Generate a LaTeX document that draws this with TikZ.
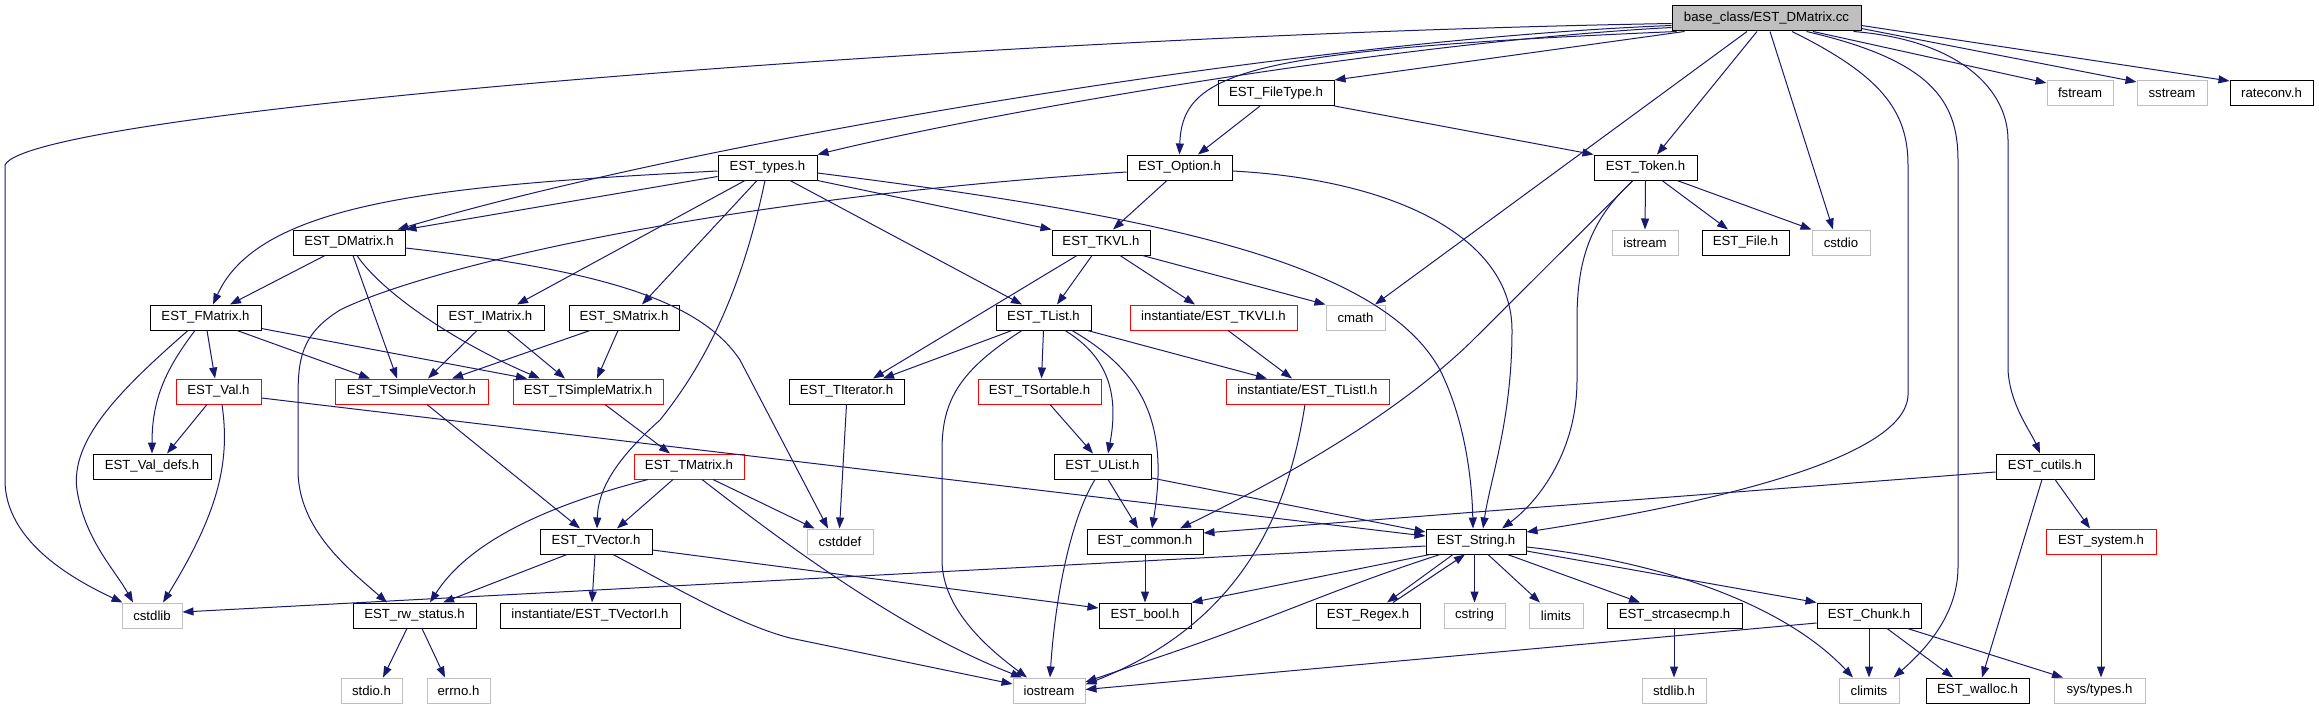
\documentclass[tikz,border=0pt]{standalone}
\usepackage{fontspec}
\setmainfont{Liberation Sans}
\usetikzlibrary{arrows.meta}
\definecolor{edgeblue}{HTML}{191970}
\definecolor{extgrey}{HTML}{BFBFBF}
\begin{document}
\begin{tikzpicture}[x=1pt,y=-1pt,
  box/.style={draw=black, line width=1pt, minimum height=25pt, inner sep=0pt, fill=white,
    font=\fontsize{13.2}{15}\selectfont},
  ext/.style={box, draw=extgrey},
  trunc/.style={box, draw=red},
  root/.style={box, fill=extgrey},
  edge/.style={draw=edgeblue, line width=1pt, -{Triangle[length=11pt,width=8pt]}}]
\useasboundingbox (0,0) rectangle (2319,709);
% row 0
\node[root, minimum width=189] (base) at (1766.5,18.5) {base\_class/EST\_DMatrix.cc};
% row 1
\node[box, minimum width=116] (filetype) at (1276,93) {EST\_FileType.h};
\node[ext, minimum width=66] (fstream) at (2080,93) {fstream};
\node[ext, minimum width=70] (sstream) at (2172,93) {sstream};
\node[box, minimum width=83] (rateconv) at (2271.5,93) {rateconv.h};
% row 2
\node[box, minimum width=99] (types) at (767.5,167.5) {EST\_types.h};
\node[box, minimum width=105] (option) at (1179.5,167.5) {EST\_Option.h};
\node[box, minimum width=103] (token) at (1645.5,167.5) {EST\_Token.h};
% row 3
\node[box, minimum width=112] (dmatrix) at (349,242.5) {EST\_DMatrix.h};
\node[box, minimum width=98] (tkvl) at (1101,242.5) {EST\_TKVL.h};
\node[ext, minimum width=66] (istream) at (1645,242.5) {istream};
\node[box, minimum width=87] (file) at (1745.5,242.5) {EST\_File.h};
\node[ext, minimum width=58] (cstdio) at (1841,242.5) {cstdio};
% row 4
\node[box, minimum width=111] (fmatrix) at (205.5,317.5) {EST\_FMatrix.h};
\node[box, minimum width=107] (imatrix) at (490.5,317.5) {EST\_IMatrix.h};
\node[box, minimum width=110] (smatrix) at (624,317.5) {EST\_SMatrix.h};
\node[box, minimum width=95] (tlist) at (1043.5,317.5) {EST\_TList.h};
\node[trunc, minimum width=167] (tkvli) at (1213.5,317.5) {instantiate/EST\_TKVLI.h};
\node[ext, minimum width=59] (cmath) at (1355.5,317.5) {cmath};
% row 5
\node[trunc, minimum width=85] (val) at (218.5,391.5) {EST\_Val.h};
\node[trunc, minimum width=153] (tsvec) at (411.5,391.5) {EST\_TSimpleVector.h};
\node[trunc, minimum width=150] (tsmat) at (588,391.5) {EST\_TSimpleMatrix.h};
\node[box, minimum width=115] (titer) at (846.5,391.5) {EST\_TIterator.h};
\node[trunc, minimum width=123] (tsort) at (1039.5,391.5) {EST\_TSortable.h};
\node[trunc, minimum width=163] (tlisti) at (1307.5,391.5) {instantiate/EST\_TListI.h};
% row 6
\node[box, minimum width=118] (valdefs) at (152,466.5) {EST\_Val\_defs.h};
\node[trunc, minimum width=110] (tmatrix) at (689,466.5) {EST\_TMatrix.h};
\node[box, minimum width=97] (ulist) at (1102.5,466.5) {EST\_UList.h};
\node[box, minimum width=98] (cutils) at (2045,466.5) {EST\_cutils.h};
% row 7
\node[box, minimum width=112] (tvector) at (596,541.5) {EST\_TVector.h};
\node[ext, minimum width=66] (cstddef) at (840,541.5) {cstddef};
\node[box, minimum width=116] (common) at (1145,541.5) {EST\_common.h};
\node[box, minimum width=100] (string) at (1476,541.5) {EST\_String.h};
\node[trunc, minimum width=110] (system) at (2101,541.5) {EST\_system.h};
% row 8
\node[ext, minimum width=60] (cstdlib) at (152,615.5) {cstdlib};
\node[box, minimum width=123] (rwstatus) at (414.5,615.5) {EST\_rw\_status.h};
\node[box, minimum width=180] (tvectori) at (590,615.5) {instantiate/EST\_TVectorI.h};
\node[box, minimum width=92] (bool) at (1145,615.5) {EST\_bool.h};
\node[box, minimum width=104] (regex) at (1368,615.5) {EST\_Regex.h};
\node[ext, minimum width=61] (cstring) at (1474.5,615.5) {cstring};
\node[ext, minimum width=54] (limits) at (1556,615.5) {limits};
\node[box, minimum width=135] (strcasecmp) at (1674.5,615.5) {EST\_strcasecmp.h};
\node[box, minimum width=104] (chunk) at (1869,615.5) {EST\_Chunk.h};
% row 9
\node[ext, minimum width=61] (stdio) at (371.5,690.5) {stdio.h};
\node[ext, minimum width=63] (errno) at (458.5,690.5) {errno.h};
\node[ext, minimum width=72] (iostream) at (1049,690.5) {iostream};
\node[ext, minimum width=64] (stdlibh) at (1674,690.5) {stdlib.h};
\node[ext, minimum width=60] (climits) at (1869,690.5) {climits};
\node[box, minimum width=103] (walloc) at (1977.5,690.5) {EST\_walloc.h};
\node[ext, minimum width=91] (systypes) at (2099.5,690.5) {sys/types.h};

% ---- edges from base
\draw[edge] ([yshift=-5pt]base.west) .. controls (1000,35) and (30,110) .. (5,165) -- (5,480) .. controls (5,540) and (70,578) .. ([xshift=1pt]cstdlib.north west);
\draw[edge] ([yshift=-7pt]base.west) .. controls (1300,40) and (700,140) .. ([xshift=-8pt]dmatrix.north east);
\draw[edge] ([yshift=-9pt]base.west) .. controls (1400,42) and (1000,110) .. (types.north east);
\draw[edge] ([xshift=5pt]base.south west) .. controls (1250,50) and (1182,70) .. (option.north);
\draw[edge] ([xshift=13pt]base.south west) -- (filetype.north east);
\draw[edge] ([xshift=-9.5pt]base.south) -- ([xshift=11.5pt]token.north);
\draw[edge] ([xshift=3.5pt]base.south) -- ([xshift=-8pt]cstdio.north);
\draw[edge] ([xshift=-19.5pt]base.south) -- ([xshift=19.5pt]cmath.north);
\draw[edge] ([xshift=25.5pt]base.south) .. controls (1880,75) and (1908,110) .. (1908,165) -- (1908,395) .. controls (1906,460) and (1700,505) .. ([yshift=9.5pt]string.east);
\draw[edge] ([xshift=40pt]base.south) .. controls (1930,60) and (1958,100) .. (1958,160) -- (1958,567) .. controls (1958,615) and (1925,650) .. ([xshift=-6pt]climits.north east);
\draw[edge] ([xshift=-8pt]base.south east) .. controls (1960,40) and (2008,90) .. (2008,140) -- (2008,370) .. controls (2010,405) and (2030,430) .. ([xshift=-5pt]cutils.north);
\draw[edge] ([xshift=46.5pt]base.south) -- ([yshift=-3pt]fstream.north west);
\draw[edge] ([yshift=-10pt]base.east) -- ([yshift=-2pt]sstream.north west);
\draw[edge] ([yshift=-7pt]base.east) -- ([yshift=-1pt]rateconv.north west);
% ---- types
\draw[edge] ([yshift=-9pt]types.west) -- (dmatrix.north east);
\draw[edge] ([yshift=-3.5pt]types.west) .. controls (450,185) and (260,200) .. ([xshift=7.5pt]fmatrix.north);
\draw[edge] ([xshift=-22.5pt]types.south) -- ([xshift=26.5pt]imatrix.north);
\draw[edge] ([xshift=-10.5pt]types.south) -- ([xshift=18pt]smatrix.north);
\draw[edge] ([xshift=-2.5pt]types.south) .. controls (740,300) and (700,370) .. (660,420) .. controls (615,460) and (598,490) .. ([xshift=1pt]tvector.north);
\draw[edge] (types.south east) -- (tkvl.north west);
\draw[edge] ([xshift=22.5pt]types.south) -- ([xshift=-21.5pt]tlist.north);
\draw[edge] ([yshift=-5.5pt]types.east) .. controls (1150,215) and (1380,260) .. (1440,370) .. controls (1465,420) and (1472,480) .. ([xshift=-3pt]string.north);
% ---- option
\draw[edge] ([xshift=-12.5pt]option.south) -- ([xshift=12pt]tkvl.north);
\draw[edge] ([yshift=-3.5pt]option.east) .. controls (1400,180) and (1512,240) .. (1512,330) .. controls (1512,420) and (1490,480) .. ([xshift=7pt]string.north);
\draw[edge] ([yshift=-4.5pt]option.west) .. controls (700,200) and (420,270) .. (340,310) .. controls (300,335) and (298,360) .. (298,400) -- (298,470) .. controls (298,530) and (350,570) .. ([xshift=-27.5pt]rwstatus.north);
% ---- token
\draw[edge] (token.south) -- (istream.north);
\draw[edge] ([xshift=16.5pt]token.south) -- ([xshift=-17.5pt]file.north);
\draw[edge] ([xshift=31.5pt]token.south) -- (cstdio.north west);
\draw[edge] ([xshift=-12.5pt]token.south) .. controls (1590,220) and (1577,260) .. (1577,320) -- (1577,380) .. controls (1577,450) and (1540,500) .. ([xshift=26pt]string.north);
\draw[edge] ([xshift=-12.5pt]token.south) -- (1470,343) .. controls (1400,410) and (1300,470) .. ([xshift=35pt]common.north);
% ---- filetype
\draw[edge] ([xshift=-16pt]filetype.south) -- ([xshift=18.5pt]option.north);
\draw[edge] (filetype.south east) -- (token.north west);
% ---- dmatrix
\draw[edge] ([xshift=-24pt]dmatrix.south) -- ([xshift=24.5pt]fmatrix.north);
\draw[edge] ([xshift=4pt]dmatrix.south) -- ([xshift=-14.5pt]tsvec.north);
\draw[edge] ([xshift=8pt]dmatrix.south) .. controls (380,290) and (450,340) .. ([xshift=-48pt]tsmat.north);
\draw[edge] ([yshift=-5.5pt]dmatrix.east) .. controls (600,270) and (700,300) .. (740,360) -- ([xshift=-12pt]cstddef.north);
% ---- fmatrix
\draw[edge] ([xshift=1.5pt]fmatrix.south) -- ([xshift=-3.5pt]val.north);
\draw[edge] ([xshift=-10.5pt]fmatrix.south) .. controls (165,370) and (152,400) .. (valdefs.north);
\draw[edge] ([xshift=-17.5pt]fmatrix.south) .. controls (120,390) and (70,440) .. (77,490) .. controls (85,540) and (115,570) .. ([xshift=-19pt]cstdlib.north);
\draw[edge] ([xshift=31.5pt]fmatrix.south) -- ([xshift=-41.5pt]tsvec.north);
\draw[edge] ([yshift=-11pt]fmatrix.east) -- ([xshift=-61pt]tsmat.north);
% ---- val
\draw[edge] ([xshift=-11.5pt]val.south) -- ([xshift=15pt]valdefs.north);
\draw[edge] ([xshift=3.5pt]val.south) .. controls (230,460) and (220,510) .. ([xshift=11pt]cstdlib.north);
\draw[edge] ([yshift=-6.5pt]val.east) -- ([yshift=5.5pt]string.west);
% ---- imatrix, smatrix
\draw[edge] ([xshift=-13.5pt]imatrix.south) -- ([xshift=16.5pt]tsvec.north);
\draw[edge] ([xshift=16.5pt]imatrix.south) -- ([xshift=-23pt]tsmat.north);
\draw[edge] ([xshift=-34pt]smatrix.south) -- ([xshift=40.5pt]tsvec.north);
\draw[edge] ([xshift=-6pt]smatrix.south) -- ([xshift=9pt]tsmat.north);
% ---- simple vector / matrix
\draw[edge] ([xshift=15.5pt]tsvec.south) -- ([xshift=-16pt]tvector.north);
\draw[edge] ([xshift=17pt]tsmat.south) -- ([xshift=-19pt]tmatrix.north);
% ---- tmatrix
\draw[edge] ([xshift=-16pt]tmatrix.south) -- ([xshift=21pt]tvector.north);
\draw[edge] ([xshift=-41pt]tmatrix.south) .. controls (550,505) and (470,540) .. ([xshift=15.5pt]rwstatus.north);
\draw[edge] ([xshift=24pt]tmatrix.south) -- ([xshift=8pt]cstddef.north west);
\draw[edge] ([xshift=13pt]tmatrix.south) .. controls (780,540) and (900,630) .. ([xshift=-27pt]iostream.north);
% ---- tvector
\draw[edge] ([xshift=-29pt]tvector.south) -- ([xshift=28.5pt]rwstatus.north);
\draw[edge] ([xshift=-1pt]tvector.south) -- ([xshift=2pt]tvectori.north);
\draw[edge] ([yshift=-8.5pt]tvector.east) -- ([yshift=7.5pt]bool.west);
\draw[edge] ([xshift=17pt]tvector.south) .. controls (680,590) and (740,625) .. (790,638) -- ([yshift=6.5pt]iostream.west);
% ---- rw_status
\draw[edge] ([xshift=-7.5pt]rwstatus.south) -- ([xshift=11.5pt]stdio.north);
\draw[edge] ([xshift=7.5pt]rwstatus.south) -- ([xshift=-13.5pt]errno.north);
% ---- string
\draw[edge] ([yshift=-4.5pt]string.west) -- ([yshift=3.5pt]cstdlib.east);
\draw[edge] ([xshift=-46pt]string.south) -- (bool.north east);
\draw[edge] ([xshift=-23pt]string.south) -- ([xshift=19pt]regex.north);
\draw[edge] ([xshift=25pt]regex.north) -- ([xshift=-11pt]string.south);
\draw[edge] ([xshift=-1.5pt]string.south) -- (cstring.north);
\draw[edge] ([xshift=12pt]string.south) -- ([xshift=-16pt]limits.north);
\draw[edge] ([xshift=-19pt]string.south east) -- ([xshift=-34.5pt]strcasecmp.north);
\draw[edge] ([yshift=-9.5pt]string.east) -- (chunk.north west);
\draw[edge] ([yshift=-5.5pt]string.east) .. controls (1650,560) and (1780,600) .. ([xshift=-16pt]climits.north);
\draw[edge] ([xshift=-36pt]string.south) .. controls (1330,590) and (1270,620) .. (1150,660) -- ([yshift=8.5pt]iostream.east);
% ---- misc
\draw[edge] ([xshift=-2.5pt]tlisti.south) .. controls (1290,500) and (1250,620) .. ([yshift=6pt]iostream.east);
\draw[edge] ([yshift=-7.5pt]chunk.west) -- ([yshift=1pt]iostream.east);
\draw[edge] ([xshift=-0.5pt]strcasecmp.south) -- (stdlibh.north);
\draw[edge] (chunk.south) -- (climits.north);
\draw[edge] ([xshift=18pt]chunk.south) -- ([xshift=-24.5pt]walloc.north);
\draw[edge] ([xshift=-14pt]chunk.south east) -- ([xshift=-36.5pt]systypes.north);
% ---- cutils / system
\draw[edge] ([yshift=-5.5pt]cutils.west) -- ([yshift=8.5pt]common.east);
\draw[edge] ([xshift=-3pt]cutils.south) -- ([xshift=4.5pt]walloc.north);
\draw[edge] ([xshift=10pt]cutils.south) -- ([xshift=-11pt]system.north);
\draw[edge] (system.south) -- ([xshift=1.5pt]systypes.north);
% ---- tkvl
\draw[edge] ([xshift=-9pt]tkvl.south) -- ([xshift=13.5pt]tlist.north);
\draw[edge] ([xshift=-24pt]tkvl.south) -- ([xshift=26.5pt]titer.north);
\draw[edge] ([xshift=19pt]tkvl.south) -- ([xshift=-18.5pt]tkvli.north);
\draw[edge] ([xshift=-8pt]tkvl.south east) -- (cmath.north west);
% ---- tlist
\draw[edge] ([xshift=-31.5pt]tlist.south) -- ([xshift=36.5pt]titer.north);
\draw[edge] ([xshift=-21.5pt]tlist.south) .. controls (960,370) and (942,400) .. (942,450) -- (942,560) .. controls (942,610) and (990,650) .. ([xshift=-22pt]iostream.north);
\draw[edge] (tlist.south) -- ([xshift=2pt]tsort.north);
\draw[edge] ([xshift=21.5pt]tlist.south) .. controls (1105,355) and (1120,390) .. ([xshift=5.5pt]ulist.north);
\draw[edge] ([xshift=28.5pt]tlist.south) .. controls (1140,370) and (1170,420) .. ([xshift=7pt]common.north);
\draw[edge] ([xshift=-4pt]tlist.south east) -- ([xshift=-40.5pt]tlisti.north);
% ---- tsortable, ulist, common, titer, tkvli
\draw[edge] ([xshift=10.5pt]tsort.south) -- ([xshift=-9.5pt]ulist.north);
\draw[edge] ([xshift=5.5pt]ulist.south) -- ([xshift=-7pt]common.north);
\draw[edge] ([yshift=-11.5pt]ulist.east) -- ([yshift=9.5pt]string.west);
\draw[edge] ([xshift=-7.5pt]ulist.south) .. controls (1070,520) and (1055,600) .. ([xshift=1pt]iostream.north);
\draw[edge] (common.south) -- (bool.north);
\draw[edge] (titer.south) -- ([xshift=-0.5pt]cstddef.north);
\draw[edge] ([xshift=14.5pt]tkvli.south) -- ([xshift=-15.5pt]tlisti.north);
\end{tikzpicture}
\end{document}
